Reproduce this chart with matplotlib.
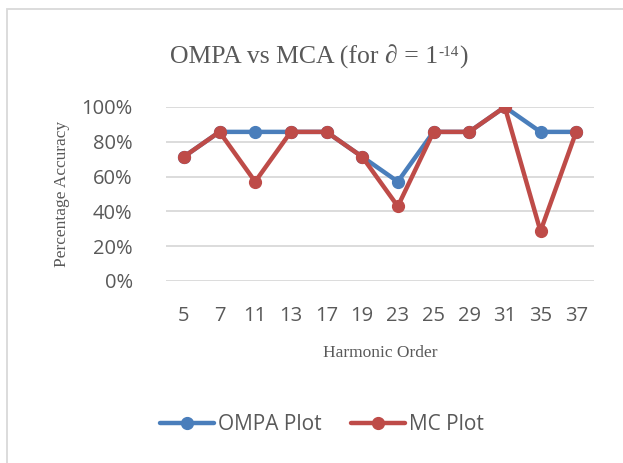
import matplotlib
matplotlib.use("Agg")
import matplotlib.pyplot as plt
from matplotlib.patches import Rectangle
from matplotlib.ticker import PercentFormatter

harmonics = ["5", "7", "11", "13", "17", "19", "23", "25", "29", "31", "35", "37"]
ompa = [71.4, 85.7, 85.7, 85.7, 85.7, 71.4, 57.1, 85.7, 85.7, 100.0, 85.7, 85.7]
mc = [71.4, 85.7, 57.1, 85.7, 85.7, 71.4, 42.9, 85.7, 85.7, 100.0, 28.6, 85.7]
y_ticks = [0, 20, 40, 60, 80, 100]

BLUE = "#4a7ebb"
RED = "#be4b48"
GREY_TXT = "#595959"
SERIF = ["Liberation Serif", "DejaVu Serif"]
SANS = ["Open Sans", "DejaVu Sans"]
W, H = 623, 463

fig = plt.figure(figsize=(W / 100, H / 100), dpi=100)
# outer chart frame (only left/top visible in the crop)
fig.patches.append(Rectangle((7 / W, -0.1), 1.2, 1 - 9 / H + 0.1,
                             transform=fig.transFigure, fill=False,
                             edgecolor="#d9d9d9", linewidth=1.3))

ax = fig.add_axes([166 / W, 1 - 281 / H, (594 - 166) / W, (281 - 107) / H])
x = range(len(harmonics))
ax.plot(x, ompa, color=BLUE, linewidth=3.2, marker="o", markersize=8.5,
        label="OMPA Plot", solid_capstyle="round", zorder=3)
ax.plot(x, mc, color=RED, linewidth=3.2, marker="o", markersize=8.5,
        label="MC Plot", solid_capstyle="round", zorder=4)

ax.set_xlim(-0.5, len(harmonics) - 0.5)
ax.set_ylim(0, 100)
ax.set_yticks(y_ticks)
ax.yaxis.set_major_formatter(PercentFormatter(decimals=0))
ax.set_xticks(list(x))
ax.set_xticklabels(harmonics)
ax.grid(axis="y", color="#d9d9d9", linewidth=1.3)
ax.set_axisbelow(True)
for s in ax.spines.values():
    s.set_visible(False)
ax.tick_params(length=0, labelsize=14.5, colors=GREY_TXT, pad=18)
ax.tick_params(axis="y", pad=24)
for lbl in ax.get_xticklabels() + ax.get_yticklabels():
    lbl.set_family(SANS)

ax.set_ylabel("Percentage Accuracy", family=SERIF, fontsize=12.5, color=GREY_TXT, labelpad=8)
ax.set_xlabel("Harmonic Order", family=SERIF, fontsize=12.5, color=GREY_TXT, labelpad=14)

# title, built in pieces so the superscript keeps a plain hyphen
renderer = fig.canvas.get_renderer()
title_y = 1 - 64 / H
parts = [("OMPA vs MCA (for \u2202 = 1", 18.5, 0), ("-14", 11, 8), (")", 18.5, 0)]
pieces = []
cur = 0
for txt, size, dy in parts:
    t = fig.text(0, 0, txt, family=SERIF, fontsize=size, color=GREY_TXT,
                 ha="left", va="baseline")
    w = t.get_window_extent(renderer).width
    pieces.append((t, cur, dy))
    cur += w
start = 319 - cur / 2
for t, off, dy in pieces:
    t.set_position(((start + off) / W, title_y + dy / H))

fig.legend(loc="center", bbox_to_anchor=(322 / W, 1 - 425 / H), ncol=2,
           frameon=False, prop={"family": SANS, "size": 15}, labelcolor=GREY_TXT,
           handlelength=2.6, columnspacing=1.4, handletextpad=0.2)

fig.savefig("out.png", dpi=100)
